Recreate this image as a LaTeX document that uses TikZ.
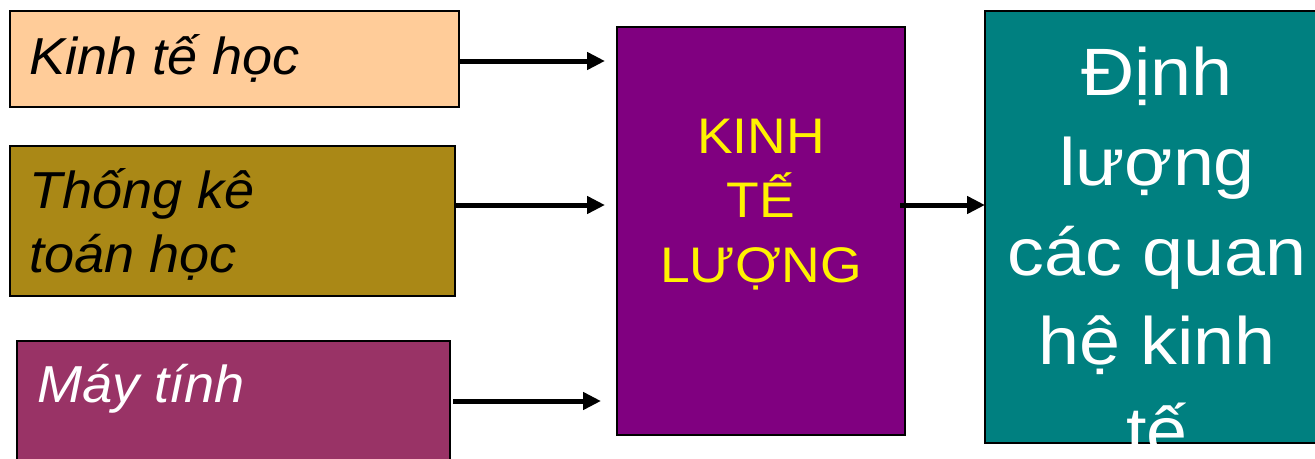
\documentclass[tikz,border=0pt]{standalone}
\usepackage{fontspec}
\setmainfont{Liberation Sans}
\newfontfamily\stretchL[FakeStretch=1.04]{Liberation Sans}
\newfontfamily\stretchA[FakeStretch=1.07]{Liberation Sans}
\newfontfamily\stretchB[FakeStretch=1.1]{Liberation Sans}
\usetikzlibrary{arrows.meta}
\definecolor{peach}{HTML}{FFCC99}
\definecolor{olivebox}{RGB}{170,136,22}
\definecolor{plumbox}{HTML}{993366}
\definecolor{purpbox}{HTML}{800080}
\definecolor{tealbox}{HTML}{008080}
\begin{document}
\begin{tikzpicture}[x=1pt,y=-1pt,
  box/.style={draw=black,line width=1.5pt,inner sep=0pt,outer sep=0pt,anchor=north west},
  arr/.style={line width=5pt,-{Triangle[length=18pt,width=17pt]}},
  lt/.style={anchor=base west,inner sep=0pt,font=\stretchL\itshape\fontsize{52}{63}\selectfont},
  mt/.style={anchor=base,inner sep=0pt,text=yellow,font=\stretchA\fontsize{50}{60}\selectfont},
  rt/.style={anchor=base,inner sep=0pt,text=white,font=\stretchB\fontsize{67}{90}\selectfont}]
\useasboundingbox (0,0) rectangle (1315,458);
\clip (0,0) rectangle (1315,458);
\node[box,fill=peach,minimum width=449pt,minimum height=96pt] (b1) at (10,11) {};
\node[box,fill=olivebox,minimum width=445pt,minimum height=150pt] (b2) at (10,146) {};
\node[box,fill=plumbox,minimum width=433pt,minimum height=160pt] (b3) at (17,341) {};
\node[box,fill=purpbox,minimum width=288pt,minimum height=408pt] (mid) at (617,27) {};
\node[box,fill=tealbox,minimum width=345pt,minimum height=432pt] (rb) at (985,11) {};
% left texts
\node[lt] (t1) at (29,74) {Kinh tế học};
\node[lt] (t2a) at (29,208) {Thống kê};
\node[lt] (t2b) at (29,272) {toán học};
\node[lt,text=white] (t3) at (37,402) {Máy tính};
% middle text
\node[mt] (m1) at (761,153) {KINH};
\node[mt] (m2) at (761,217) {TẾ};
\node[mt] (m3) at (761,282) {LƯỢNG};
% right text
\begin{scope}
\clip (rb.north west) rectangle (rb.south east);
\node[rt] (r1) at (1157,95) {Định};
\node[rt] (r2) at (1157,185) {lượng};
\node[rt] (r3) at (1157,275) {các quan};
\node[rt] (r4) at (1157,364) {hệ kinh};
\node[rt] (r5) at (1157,454) {tế};
\end{scope}
% arrows
\coordinate (s1) at ([yshift=-2pt]b1.east);
\coordinate (e1) at (s1 -| mid.west);
\draw[arr] (s1) -- ([xshift=-12pt]e1);
\coordinate (s2) at ([yshift=16pt]b2.east);
\coordinate (e2) at (s2 -| mid.west);
\draw[arr] (s2) -- ([xshift=-12pt]e2);
\coordinate (s3) at ([yshift=-60pt,xshift=3pt]b3.north east);
\coordinate (e3) at (s3 -| mid.west);
\draw[arr] (s3) -- ([xshift=-16pt]e3);
\coordinate (s4) at ([yshift=26pt,xshift=-5pt]mid.east);
\coordinate (e4) at (s4 -| rb.west);
\draw[arr] (s4) -- (e4);
\end{tikzpicture}
\end{document}
